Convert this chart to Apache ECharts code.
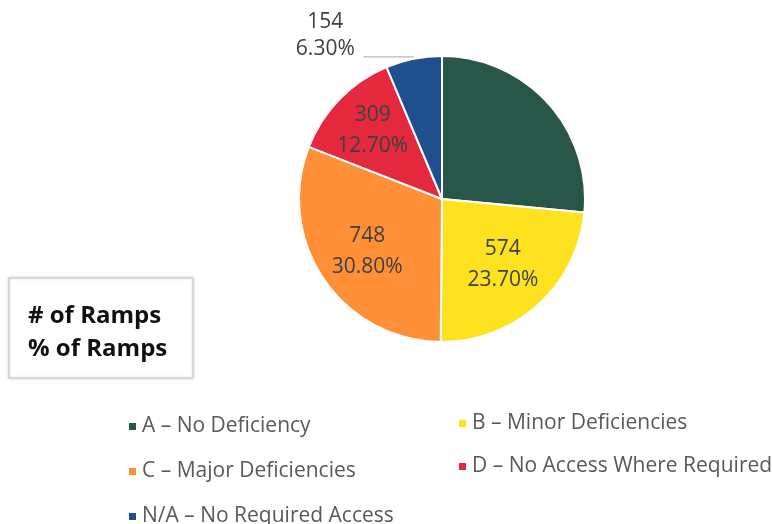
<!DOCTYPE html>
<html>
<head>
<meta charset="utf-8">
<script src="https://cdn.jsdelivr.net/npm/echarts@6/dist/echarts.min.js"></script>
<style>
  html, body { margin: 0; padding: 0; background: #fff; }
  #main { width: 772px; height: 524px; }
</style>
</head>
<body>
<div id="main"></div>
<script>
// ramp condition categories
const categories = ['A – No Deficiency', 'B – Minor Deficiencies', 'C – Major Deficiencies', 'D – No Access Where Required', 'N/A – No Required Access']
const rampCounts = [644, 574, 748, 309, 154]
const rampPercents = ['26.50%', '23.70%', '30.80%', '12.70%', '6.30%']
const sliceColors = ['#28574A', '#FFE21F', '#FF9038', '#E4283D', '#1F4F8D']

const FONT = '"Open Sans", sans-serif'

// label nudges (A has no visible label, N/A sits above its leader line)
const labelOffsets = [[0, 0], [11, 10], [-13, 11], [-16, -16], [-2, -21]]

const chart = echarts.init(document.getElementById('main'))

const pieData = categories.map((name, i) => {
  const item = {
    name: name,
    value: rampCounts[i],
    itemStyle: { color: sliceColors[i] },
    label: { offset: labelOffsets[i] }
  }
  if (i === 0) item.label = { show: false }
  else if (i < 4) {
    item.label = {
      position: 'inside',
      offset: labelOffsets[i],
      lineHeight: 31,
      formatter: p => rampCounts[p.dataIndex] + '\n' + rampPercents[p.dataIndex]
    }
    item.labelLine = { show: false }
  }
  return item
})

// legend placed in two columns, like the original
const legendSpots = [[122, 411], [452, 408], [122, 456], [452, 451], [122, 501]]
const legends = categories.map((name, i) => ({
  data: [name],
  left: legendSpots[i][0],
  top: legendSpots[i][1],
  icon: 'rect',
  itemWidth: 9,
  itemHeight: 9,
  itemGap: 6,
  selectedMode: false,
  textStyle: { fontFamily: FONT, fontSize: 21, color: '#595959' }
}))

const option = {
  backgroundColor: '#fff',
  animation: false,
  legend: legends,
  graphic: [
    {
      type: 'rect',
      shape: { x: 9, y: 278, width: 184, height: 100 },
      style: { fill: '#fff', stroke: '#CFCFD8', lineWidth: 1.5, shadowColor: 'rgba(0,0,0,0.15)', shadowBlur: 3 }
    },
    {
      type: 'text',
      left: 28,
      top: 300,
      style: {
        text: '# of Ramps\n% of Ramps',
        font: 'bold 24px ' + FONT,
        fill: '#111',
        lineHeight: 33
      }
    }
  ],
  series: [
    {
      type: 'pie',
      center: [442, 199],
      radius: 143,
      startAngle: 90,
      clockwise: true,
      avoidLabelOverlap: false,
      itemStyle: { borderColor: '#fff', borderWidth: 2 },
      label: {
        show: true,
        position: 'outside',
        // outside label: both lines centred on each other
        formatter: p => '{c|' + rampCounts[p.dataIndex] + '}\n{c|' + rampPercents[p.dataIndex] + '}',
        fontFamily: FONT,
        fontSize: 21,
        lineHeight: 27,
        color: '#404040',
        rich: { c: { width: 62, align: 'center', fontFamily: FONT, fontSize: 21, lineHeight: 27, color: '#404040' } }
      },
      labelLine: { show: true, length: 2, length2: 50, lineStyle: { color: '#A6A6A6', width: 1 } },
      emphasis: { disabled: true },
      data: pieData
    }
  ]
}

chart.setOption(option)
</script>
</body>
</html>
